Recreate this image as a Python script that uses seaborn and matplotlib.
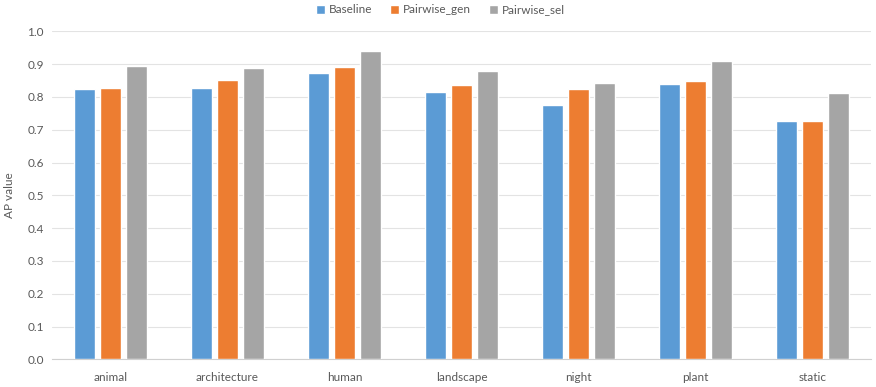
import matplotlib
matplotlib.use("Agg")
import matplotlib.pyplot as plt
import pandas as pd
import seaborn as sns

categories = ["animal", "architecture", "human", "landscape", "night", "plant", "static"]
baseline = [0.823, 0.828, 0.873, 0.816, 0.776, 0.840, 0.727]
pairwise_gen = [0.828, 0.851, 0.890, 0.835, 0.823, 0.848, 0.727]
pairwise_sel = [0.895, 0.887, 0.939, 0.880, 0.843, 0.909, 0.813]
series_names = ["Baseline", "Pairwise_gen", "Pairwise_sel"]
colors = ["#5B9BD5", "#ED7D31", "#A5A5A5"]

rows = []
for name, vals in zip(series_names, [baseline, pairwise_gen, pairwise_sel]):
    for cat, v in zip(categories, vals):
        rows.append({"category": cat, "series": name, "value": v})
df = pd.DataFrame(rows)

sns.set_style("white")
plt.rcParams["font.family"] = ["Lato", "DejaVu Sans"]

fig = plt.figure(figsize=(8.76, 3.87), dpi=100)
ax = fig.add_axes([52 / 876, 27.7 / 387, 819 / 876, 328 / 387])

sns.barplot(data=df, x="category", y="value", hue="series", palette=colors,
            width=0.67, gap=0.2, saturation=1, ax=ax, zorder=3)

ax.set_ylim(0, 1.0)
ax.set_xlim(-0.5, 6.5)
ax.set_yticks([i / 10 for i in range(11)])
ax.set_yticklabels([f"{i / 10:.1f}" for i in range(11)])
ax.yaxis.grid(True, color="#E3E3E3", linewidth=0.8, zorder=0)
ax.set_axisbelow(True)
for s in ["left", "right", "top"]:
    ax.spines[s].set_visible(False)
ax.spines["bottom"].set_color("#D0D0D0")
ax.tick_params(axis="both", length=0, labelsize=8.5, colors="#595959", pad=6)
ax.tick_params(axis="x", pad=9)
ax.set_xlabel("")
ax.set_ylabel("AP value", fontsize=8.5, color="#595959", labelpad=9)

ax.legend(loc="center", bbox_to_anchor=(0.474, 1.065), ncol=3, frameon=False,
          fontsize=8.5, handlelength=0.8, handleheight=0.8, handletextpad=0.3,
          columnspacing=1.5, labelcolor="#595959")

fig.savefig("out.png", dpi=100)
